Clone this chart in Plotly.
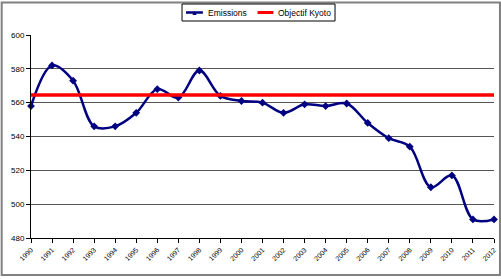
import plotly.graph_objects as go

years = [str(y) for y in range(1990, 2013)]
emissions = [558, 582, 573, 546, 546, 554, 568, 563, 579, 564, 561, 560,
             554, 559, 558, 559.5, 548, 539, 534, 510, 517, 491, 491]
kyoto = [564.5] * len(years)
y_ticks = [480, 500, 520, 540, 560, 580, 600]

W, H = 501, 279
L, R, T, B = 31, 4, 35, 41
pw, ph = W - L - R, H - T - B

def px(x):
    return (x - L) / pw

def py(y):
    return 1 - (y - T) / ph

fig = go.Figure()
fig.add_trace(go.Scatter(
    x=years, y=emissions, name="Emissions", mode="lines+markers",
    line=dict(color="#000080", width=2.5, shape="spline", smoothing=1.0),
    marker=dict(symbol="diamond", size=6, color="#000080"),
    cliponaxis=False, showlegend=False))
fig.add_trace(go.Scatter(
    x=years, y=kyoto, name="Objectif Kyoto", mode="lines",
    line=dict(color="#ff0000", width=3.5), cliponaxis=False, showlegend=False))

shapes = [
    dict(type="rect", xref="paper", yref="paper",
         x0=px(1.5), x1=px(W + 2), y0=py(H - 4), y1=py(2.5),
         line=dict(color="#808080", width=2), layer="below"),
    dict(type="rect", xref="paper", yref="paper",
         x0=px(183), x1=px(337), y0=py(21), y1=py(4),
         line=dict(color="black", width=1), fillcolor="white"),
    dict(type="line", xref="paper", yref="paper",
         x0=px(187), x1=px(204), y0=py(12.5), y1=py(12.5),
         line=dict(color="#000080", width=2.5)),
    dict(type="line", xref="paper", yref="paper",
         x0=px(259), x1=px(275), y0=py(12.5), y1=py(12.5),
         line=dict(color="#ff0000", width=3)),
]
annotations = [
    dict(xref="paper", yref="paper", x=px(195.5), y=py(12.5), text="▲",
         showarrow=False, font=dict(size=7, color="#000080"),
         xanchor="center", yanchor="middle"),
    dict(xref="paper", yref="paper", x=px(207), y=py(12.5), text="Emissions",
         showarrow=False, font=dict(size=8.5, color="black"),
         xanchor="left", yanchor="middle"),
    dict(xref="paper", yref="paper", x=px(278), y=py(12.5), text="Objectif Kyoto",
         showarrow=False, font=dict(size=8.5, color="black"),
         xanchor="left", yanchor="middle"),
]

fig.update_layout(
    width=W, height=H,
    margin=dict(l=L, r=R, t=T, b=B),
    paper_bgcolor="white", plot_bgcolor="white",
    font=dict(family="Liberation Sans, Arial", size=8, color="black"),
    showlegend=False,
    xaxis=dict(type="category", range=[0, len(years) - 1], showgrid=False,
               ticks="outside", ticklen=4, tickcolor="black",
               showline=True, linecolor="black", linewidth=1,
               tickangle=-45, tickfont=dict(size=7), zeroline=False),
    yaxis=dict(range=[480, 600], tickvals=y_ticks, showgrid=True,
               gridcolor="#555555", gridwidth=1,
               ticks="outside", ticklen=4, tickcolor="black",
               showline=True, linecolor="black", linewidth=1,
               zeroline=False, tickfont=dict(size=8)),
    shapes=shapes,
    annotations=annotations,
)

fig.write_html("out.html")
